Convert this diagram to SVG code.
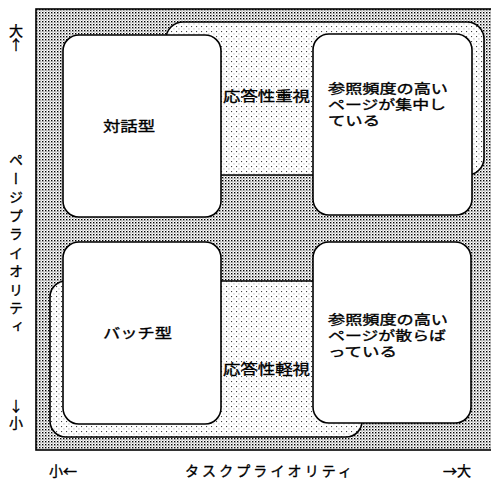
<svg xmlns="http://www.w3.org/2000/svg" width="491" height="481" viewBox="0 0 491 481">
<style>
text{font-family:"Noto Sans CJK JP","Noto Sans",sans-serif;fill:#000;font-size:14px;stroke:#000;stroke-width:0.35}
.frame{stroke:#000;stroke-width:1.6}
.box{fill:#fff;stroke:#000;stroke-width:1.6}
.light{fill:url(#sparse);stroke:#000;stroke-width:1.6}
.vert{writing-mode:vertical-rl;letter-spacing:4.5px;font-size:14px}
.up{writing-mode:vertical-rl;text-orientation:upright;font-size:14px}
.bt{font-size:13px}
</style>
<defs>
<pattern id="dense" width="3" height="3" patternUnits="userSpaceOnUse">
<rect width="3" height="3" fill="#fff"/>
<rect x="0" y="0" width="1.4" height="1.4" fill="#000"/>
<rect x="1.5" y="1.5" width="1" height="1" fill="#555"/>
</pattern>
<pattern id="sparse" width="5" height="5" patternUnits="userSpaceOnUse">
<rect width="5" height="5" fill="#fff"/>
<rect x="1" y="1" width="1.1" height="1.1" fill="#444"/>
<rect x="3.5" y="3.5" width="0.9" height="0.9" fill="#888"/>
</pattern>
</defs>
<g id="background">
<rect class="frame" x="36" y="9" width="470" height="441" fill="url(#dense)"/>
</g>
<g id="region-high">
<rect class="light" x="166" y="22" width="318" height="153" rx="17"/>
</g>
<g id="region-low">
<rect class="light" x="50" y="281" width="312" height="156" rx="16"/>
</g>
<g id="node-taiwa">
<rect class="box" x="63" y="35" width="158" height="182" rx="16"/>
<text x="103" y="131" font-size="15" textLength="52" lengthAdjust="spacingAndGlyphs">対話型</text>
</g>
<g id="node-shuchu">
<rect class="box" x="313" y="34" width="159" height="181" rx="16"/>
<text class="bt" x="328" y="93" textLength="120" lengthAdjust="spacingAndGlyphs">参照頻度の高い</text>
<text class="bt" x="328" y="109" textLength="118" lengthAdjust="spacingAndGlyphs">ページが集中し</text>
<text class="bt" x="328" y="125" textLength="52" lengthAdjust="spacingAndGlyphs">ている</text>
</g>
<g id="node-batch">
<rect class="box" x="63" y="242" width="158" height="182" rx="16"/>
<text x="103" y="338" font-size="15" textLength="69" lengthAdjust="spacingAndGlyphs">バッチ型</text>
</g>
<g id="node-chirabatte">
<rect class="box" x="313" y="242" width="158" height="181" rx="16"/>
<text class="bt" x="328" y="324" textLength="120" lengthAdjust="spacingAndGlyphs">参照頻度の高い</text>
<text class="bt" x="328" y="340" textLength="118" lengthAdjust="spacingAndGlyphs">ページが散らば</text>
<text class="bt" x="328" y="356" textLength="69" lengthAdjust="spacingAndGlyphs">っている</text>
</g>
<g id="labels">
<text x="223" y="101" font-size="15" textLength="87" lengthAdjust="spacingAndGlyphs">応答性重視</text>
<text x="223" y="374" font-size="15" textLength="87" lengthAdjust="spacingAndGlyphs">応答性軽視</text>
</g>
<g id="axis-y">
<text class="up" x="16" y="24">大↑</text>
<text class="vert" x="16" y="153">ページプライオリティ</text>
<text class="up" x="16" y="399" letter-spacing="3">↓小</text>
</g>
<g id="axis-x">
<text x="49" y="476" font-size="14">小←</text>
<text x="185" y="476" textLength="167" lengthAdjust="spacing">タスクプライオリティ</text>
<text x="443" y="476" font-size="14">→大</text>
</g>
</svg>
